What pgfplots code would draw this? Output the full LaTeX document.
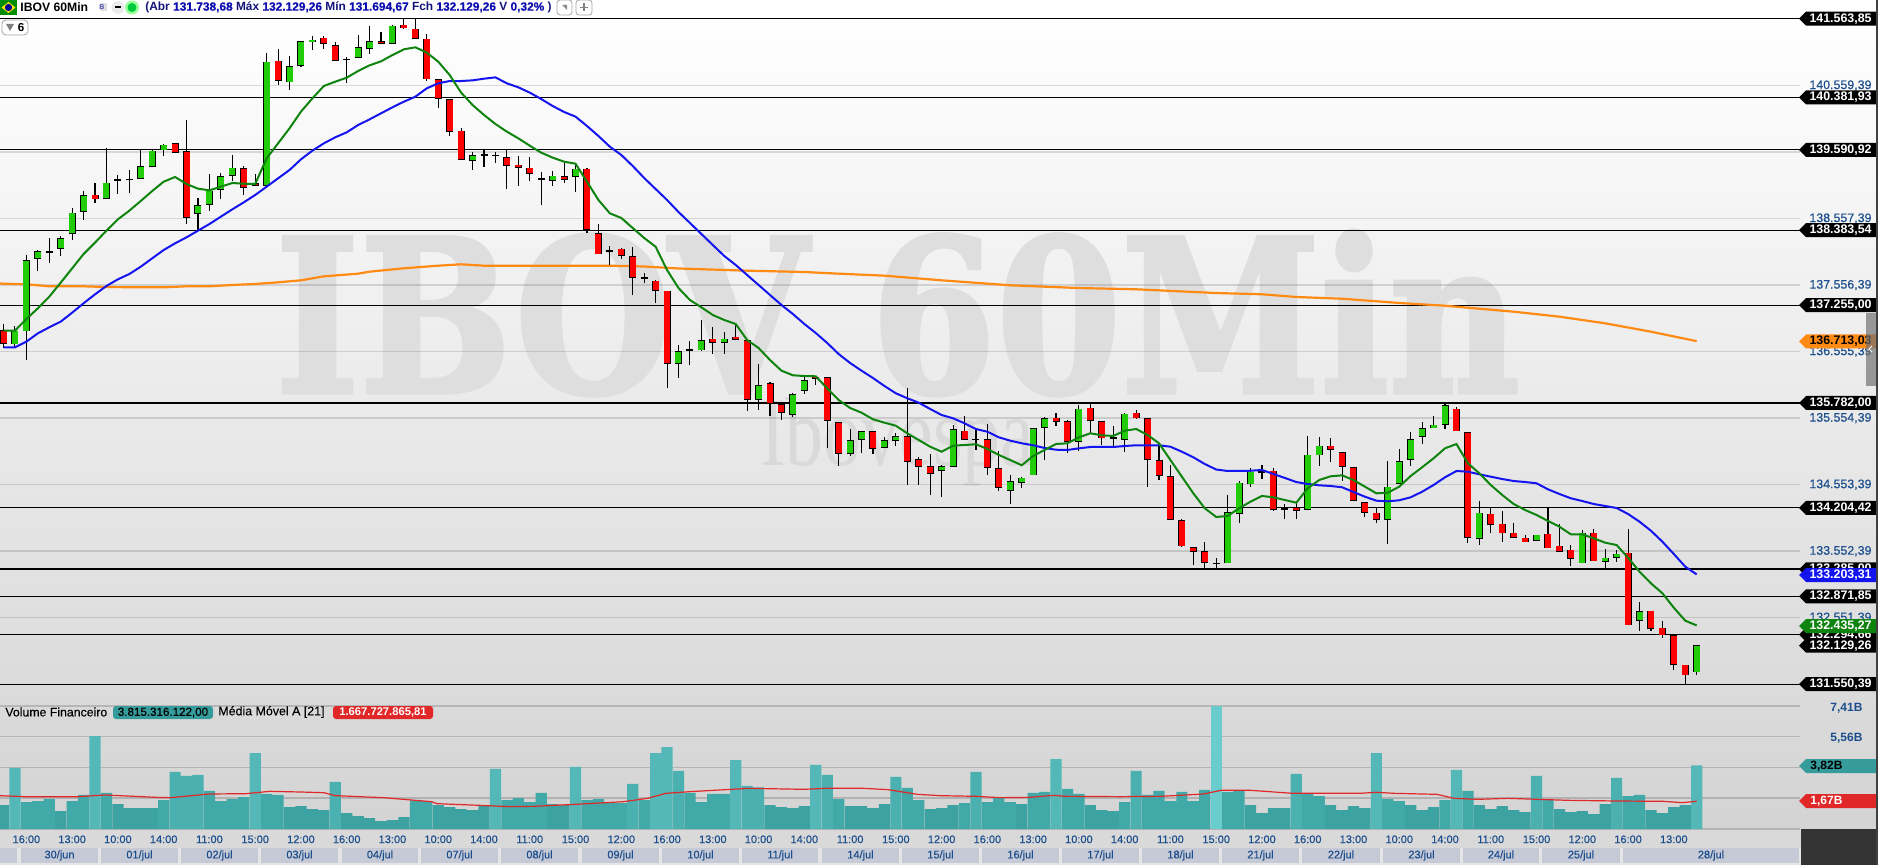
\documentclass[border=0pt]{standalone}
\usepackage{fontspec}
\setmainfont{Liberation Sans}
\newfontfamily\wmfont[BoldFeatures={FakeBold=2}]{DejaVu Serif}
\newfontfamily\lserif{Liberation Serif}
\newfontfamily\medfont[FakeBold=0.35]{Liberation Sans}
\usepackage{pgfplots}
\usepackage{pgfplotstable}
\pgfplotsset{compat=1.18}
\usepackage{graphicx}
\definecolor{cup}{HTML}{22CC08}
\definecolor{cdown}{HTML}{FF0000}
\definecolor{mafast}{HTML}{0E840E}
\definecolor{maslow}{HTML}{1414F0}
\definecolor{malong}{HTML}{FF8A14}
\definecolor{ticktxt}{HTML}{1A4D8C}
\definecolor{tealtag}{HTML}{359B9B}
\definecolor{redtag}{HTML}{E02828}
\definecolor{datecell}{HTML}{C6CAD6}
\definecolor{navy}{HTML}{14147A}
\definecolor{vola}{HTML}{3CA2A2}
\definecolor{volb}{HTML}{42A9A9}
\definecolor{volc}{HTML}{4BB0B0}
\definecolor{vold}{HTML}{54B8B8}
\definecolor{vole}{HTML}{69CDCD}
\definecolor{wmark}{HTML}{DEDEDE}
\definecolor{wmarksub}{HTML}{D9D9D9}

% i, high, body top, body bottom, low, kind (1 up, 2 down, 0 doji), volume (B), fast MA, slow MA
\pgfplotstableread{
i h t b l k v g m
1 136971 136870 136680 136605 2 1.44 136870 136620
2 136941 136860 136670 136605 1 3.67 136870 136620
3 138009 137924 136865 136429 1 1.62 137046 136705
4 138084 138059 137959 137773 1 1.68 137206 136830
5 138265 138064 138049 137894 0 1.80 137382 136921
6 138295 138255 138109 137994 1 1.08 137593 137006
7 138711 138636 138335 138235 1 1.68 137808 137141
8 138972 138902 138666 138536 1 2.05 138024 137282
9 139097 138907 138857 138796 2 5.59 138195 137417
10 139614 139087 138862 138852 1 2.17 138375 137543
11 139213 139148 139133 138927 0 1.50 138546 137643
12 139288 139153 139143 138947 0 1.26 138676 137723
13 139594 139338 139163 139153 1 1.26 138822 137833
14 139594 139569 139343 139338 1 1.26 138972 137959
15 139679 139659 139594 139499 1 1.74 139112 138084
16 139694 139684 139554 139549 2 3.43 139183 138185
17 140040 139564 138576 138475 2 3.19 139077 138275
18 138862 138751 138636 138385 1 3.25 139007 138375
19 139228 138967 138771 138676 1 2.29 138982 138475
20 139248 139188 138997 138852 1 1.68 139037 138586
21 139514 139313 139208 139122 1 1.80 139092 138696
22 139348 139308 139027 138912 2 1.92 139082 138801
23 139228 139082 139057 139057 2 4.57 139077 138912
24 141054 140908 139057 139047 1 2.11 139464 139037
25 141104 140923 140637 140572 2 2.05 139689 139163
26 141003 140843 140612 140492 1 1.32 139915 139288
27 141224 141219 140863 140843 1 1.38 140166 139448
28 141304 141239 141214 141094 1 1.20 140366 139579
29 141304 141269 141194 141109 2 1.14 140552 139689
30 141209 141159 140938 140933 2 2.83 140617 139780
31 140993 140958 140943 140602 0 0.96 140677 139855
32 141319 141129 140983 140978 1 0.78 140778 139965
33 141455 141219 141119 141033 1 0.66 140863 140050
34 141370 141219 141194 141194 2 0.48 140923 140141
35 141465 141450 141194 141189 1 0.54 141018 140231
36 141560 141465 141430 141415 2 0.72 141104 140316
37 141560 141405 141269 141254 2 1.72 141134 140391
38 141334 141254 140662 140632 2 1.68 141054 140517
39 140662 140647 140366 140226 2 1.44 140918 140592
40 140356 140346 139870 139805 2 1.32 140717 140627
41 139915 139870 139448 139438 2 1.20 140452 140627
42 139554 139504 139433 139288 1 1.14 140266 140637
43 139589 139524 139509 139338 0 1.44 140116 140662
44 139564 139509 139499 139398 0 3.61 139980 140682
45 139589 139474 139358 139007 2 1.74 139865 140592
46 139499 139358 139328 139052 2 1.86 139764 140532
47 139479 139313 139238 139127 2 1.62 139654 140452
48 139253 139158 139143 138761 0 2.17 139549 140356
49 139268 139193 139133 139047 1 1.50 139474 140251
50 139388 139188 139148 139097 2 1.44 139413 140161
51 139388 139298 139193 138962 1 3.73 139383 140091
52 139313 139298 138395 138335 2 1.74 139112 139950
53 138475 138330 138029 138019 2 1.80 138837 139800
54 138144 138079 138064 137858 0 1.62 138636 139639
55 138110 138095 138004 137953 2 1.56 138566 139514
56 138125 137983 137673 137407 2 2.71 138415 139348
57 137743 137666 137651 137583 0 1.74 138265 139168
58 137633 137613 137478 137291 2 4.57 138134 139002
59 137467 137463 136379 136013 2 4.93 137783 138837
60 136655 136555 136379 136163 1 3.49 137512 138656
61 136710 136590 136575 136359 0 2.17 137332 138491
62 137031 136720 136585 136565 1 1.62 137222 138325
63 136921 136740 136695 136524 2 2.11 137106 138159
64 136845 136740 136695 136524 1 2.11 137031 137994
65 136971 136770 136740 136730 2 4.15 136971 137859
66 136730 136720 135837 135667 2 2.59 136730 137708
67 136369 136043 135837 135682 1 2.51 136610 137558
68 136093 136073 135777 135592 2 1.44 136429 137407
69 135777 135757 135642 135531 2 1.32 136268 137257
70 135928 135908 135612 135577 1 1.26 136199 137121
71 136178 136118 135973 135923 1 1.38 136188 136971
72 136188 136168 136153 136058 2 3.85 136184 136835
73 136168 136163 135521 135110 2 3.25 136003 136685
74 135501 135486 135025 134839 2 1.80 135827 136519
75 135386 135215 135025 134990 1 1.38 135707 136384
76 135366 135351 135235 135035 1 1.38 135636 136268
77 135361 135351 135100 135020 2 1.26 135537 136158
78 135266 135215 135115 135110 1 1.50 135486 136038
79 135326 135276 135220 135140 1 3.13 135440 135928
80 136008 135276 134904 134548 2 2.47 135326 135853
81 134965 134929 134829 134548 2 1.74 135225 135787
82 135015 134824 134724 134398 2 1.20 135124 135692
83 134849 134824 134769 134373 1 1.26 135049 135601
84 135446 135381 134829 134824 1 1.44 135140 135552
85 135587 135356 135235 135220 2 1.56 135150 135477
86 135386 135240 135225 135075 0 3.43 135161 135391
87 135466 135230 134814 134704 2 1.62 135090 135350
88 135060 134794 134513 134463 2 1.86 135000 135266
89 134699 134598 134468 134267 1 1.62 134924 135215
90 134674 134649 134588 134508 1 1.50 134845 135176
91 135401 135396 134699 134694 1 2.17 134985 135146
92 135577 135546 135416 134929 1 2.23 135075 135105
93 135637 135551 135506 135441 2 4.21 135165 135079
94 135526 135501 135205 135025 2 2.41 135176 135075
95 135747 135687 135205 135065 1 2.11 135266 135100
96 135777 135702 135521 135326 2 1.44 135326 135120
97 135511 135501 135255 135150 2 1.14 135296 135120
98 135436 135266 135250 135115 0 1.08 135286 135120
99 135627 135612 135235 135045 1 1.62 135365 135135
100 135677 135627 135561 135536 2 3.49 135391 135146
101 135551 135546 134934 134523 2 2.05 135301 135146
102 135175 134914 134694 134623 2 2.29 135176 135146
103 134849 134674 134032 134022 2 1.68 134924 135124
104 134032 134012 133635 133620 2 2.23 134673 135049
105 133610 133605 133550 133344 2 1.68 134423 134965
106 133686 133545 133385 133284 2 2.35 134198 134864
107 133445 133370 133360 133304 0 7.41 134067 134781
108 134398 134132 133379 133369 1 2.23 134082 134759
109 134608 134573 134122 133971 1 2.29 134198 134759
110 134799 134739 134568 134523 1 1.44 134297 134763
111 134849 134749 134734 134633 0 0.96 134383 134774
112 134799 134754 134182 134162 2 1.26 134363 134714
113 134262 134192 134182 134036 0 1.26 134322 134654
114 134282 134197 134167 134036 2 3.31 134282 134593
115 135285 134994 134182 134177 1 2.11 134499 134563
116 135275 135130 135004 134834 1 1.98 134623 134544
117 135250 135130 135085 134894 2 1.44 134679 134533
118 135040 135035 134829 134608 2 1.14 134694 134514
119 134814 134809 134317 134312 2 1.38 134623 134443
120 134297 134282 134137 134072 2 1.26 134523 134372
121 134197 134122 134031 133976 2 4.57 134423 134312
122 134909 134513 134031 133660 1 1.80 134432 134303
123 135085 134899 134573 134563 1 1.68 134523 134318
124 135341 135230 134934 134839 1 1.44 134684 134363
125 135496 135396 135280 135165 1 1.14 134815 134447
126 135586 135446 135411 135406 1 1.32 134950 134548
127 135762 135742 135461 135391 1 1.74 135100 134664
128 135717 135687 135366 135361 2 3.55 135165 134759
129 135351 135336 133761 133675 2 2.29 134875 134748
130 134307 134122 133746 133645 1 1.44 134724 134709
131 134207 134107 133956 133826 2 1.20 134548 134673
132 134157 133956 133831 133690 2 1.38 134398 134638
133 133971 133821 133761 133756 2 1.14 134262 134608
134 133796 133746 133695 133690 2 1.02 134172 134593
135 133796 133791 133715 133700 1 3.19 134097 134574
136 134212 133806 133605 133600 2 1.74 134007 134483
137 133956 133625 133550 133540 2 1.20 133921 134413
138 133645 133565 133445 133329 2 1.02 133806 134348
139 133871 133821 133379 133374 1 1.08 133806 134307
140 133886 133821 133409 133404 2 0.90 133746 134262
141 133585 133445 133399 133279 1 1.50 133680 134232
142 133570 133505 133460 133394 1 3.07 133645 134202
143 133886 133520 132441 132436 2 1.98 133454 134112
144 132793 132642 132512 132356 1 2.05 133244 133996
145 132652 132647 132391 132356 2 1.14 133069 133860
146 132502 132391 132291 132251 2 0.96 132919 133695
147 132291 132281 131850 131764 2 1.32 132702 133510
148 131840 131835 131694 131549 2 1.44 132506 133319
149 132129 132129 131738 131694 1 3.82 132435 133203
}\candles

\pgfplotsset{
  base/.style={scale only axis, width=900pt, xmin=0.694, xmax=158.03,
    axis line style={draw=none}, major tick length=0pt, clip=false,
    scaled y ticks=false},
  err/.style 2 args={forget plot, mark=none, draw=none,
    error bars/y dir=both, error bars/y explicit, error bars/error mark=none,
    error bars/error bar style={solid,draw=#1,line width=#2}},
}
\newcommand\level[1]{\addplot[forget plot,black,line width=.55pt] coordinates {(0.694,#1) (158.03,#1)};}
\newcommand\pxfont[1]{\fontsize{#1pt}{#1pt}\selectfont}
% price tag on the right scale: y in px, text, fill, text colour
\newcommand\pricetag[4]{%
  \fill[#3] (1799,#1) -- (1806,#1-7) -- (1876,#1-7) -- (1876,#1+7) -- (1806,#1+7) -- cycle;
  \node[anchor=east,inner sep=0pt,text=#4,font=\bfseries\pxfont{6.2}] at (1872,#1) {#2};}
\newcommand\datecell[3]{%
  \fill[datecell] (#1,848) rectangle (#2,863);
  \node[text=ticktxt,font=\medfont\pxfont{5.5}] at ({(#1+#2)/2},855.5) {#3};}

\begin{document}
\begin{tikzpicture}
\path[use as bounding box] (0,0) rectangle (939pt,-432.5pt);
\begin{scope}[x=.5pt,y=-.5pt]
  \shade[top color=white,bottom color=black!17] (0,12) rectangle (1878,829);
  \fill[white] (0,0) rectangle (1878,12);
  \fill[black!15] (0,829) rectangle (1878,848);
  \fill[black!10] (0,848) rectangle (1878,865);
  \node[text=wmark,anchor=south west,inner sep=0pt] at (275,396)
    {\resizebox{622pt}{81pt}{\wmfont\bfseries IBOV 60Min}};
  \node[text=wmarksub,anchor=west,inner sep=0pt] at (760,442)
    {\resizebox{137pt}{34pt}{\lserif Ibovespa}};
\end{scope}

\begin{axis}[base, at={(0pt,-414.5pt)}, anchor=south west, height=414.5pt,
    ymin=129372, ymax=141846,
    xtick=\empty,
    ytick={140559.39,139558.39,138557.39,137556.39,136555.39,135554.39,134553.39,133552.39,132551.39},
    yticklabels={{140.559,39},{139.558,39},{138.557,39},{137.556,39},{136.555,39},{135.554,39},{134.553,39},{133.552,39},{132.551,39}},
    yticklabel pos=right,
    yticklabel style={anchor=west,inner sep=0pt,xshift=4.5pt,text=ticktxt,font=\medfont\pxfont{6.2}},
    ymajorgrids, grid style={black,opacity=.13,line width=.75pt},
  ]
  \level{141563.85}\level{140381.93}\level{139590.92}\level{138383.54}
  \level{137255.00}\level{135782.00}\level{134204.42}\level{133285.00}
  \level{132871.85}\level{132294.66}\level{131550.39}
  % long average, read at the points where it bends
  \addplot[forget plot,malong,line width=1.1pt] coordinates {
    (0.694,137582) (1,137577) (3,137568) (5,137538) (8,137538) (10,137527) (13,137523) (15,137523)
    (17,137538) (19,137538) (21,137558) (23,137573) (25,137598) (27,137628) (29,137688)
    (32,137728) (33,137758) (36,137809) (39,137848) (41,137869) (43,137848) (46,137848)
    (50,137848) (54,137848) (57,137836) (60,137806) (66,137773) (71,137753) (74,137728)
    (78,137698) (83,137628) (89,137553) (95,137512) (100,137493) (107,137437) (111,137418)
    (114,137377) (118,137351) (123,137287) (127,137246) (133,137156) (137,137081)
    (141,136981) (145,136855) (149,136713)};
  % wicks
  \addplot[err={black}{.55pt}]
    table[x=i,y=t,y error plus expr=\thisrow{h}-\thisrow{t},y error minus expr=\thisrow{t}-\thisrow{l}] {\candles};
  % body outlines, half a pixel beyond the body at each end
  \addplot[err={black}{3.5pt}]
    table[x=i,y=t,y error plus expr=6,y error minus expr=\thisrow{t}-\thisrow{b}+6] {\candles};
  % body fills
  \addplot[err={cup}{3pt},restrict expr to domain={\thisrow{k}}{1:1}]
    table[x=i,y=t,y error plus expr=0,y error minus expr=\thisrow{t}-\thisrow{b}] {\candles};
  \addplot[err={cdown}{3pt},restrict expr to domain={\thisrow{k}}{2:2}]
    table[x=i,y=t,y error plus expr=0,y error minus expr=\thisrow{t}-\thisrow{b}] {\candles};
  \addplot[forget plot,maslow,line width=1pt] table[x=i,y=m] {\candles};
  \addplot[forget plot,mafast,line width=1pt] table[x=i,y=g] {\candles};
\end{axis}

\begin{axis}[base, at={(0pt,-414.5pt)}, anchor=south west, height=69.5pt,
    ymin=0, ymax=8.36,
    ytick={0,1.85,3.71,5.56,7.41},
    yticklabels={,,,{5,56B},{7,41B}},
    yticklabel pos=right,
    yticklabel style={anchor=west,inner sep=0pt,xshift=15pt,yshift=-1pt,text=ticktxt,font=\bfseries\pxfont{6}},
    ymajorgrids, grid style={black,opacity=.16,line width=.75pt},
    xtick={3,7,...,147},
    xticklabels={16:00,13:00,10:00,14:00,11:00,15:00,12:00,16:00,13:00,10:00,14:00,11:00,15:00,12:00,16:00,13:00,10:00,14:00,11:00,15:00,12:00,16:00,13:00,10:00,14:00,11:00,15:00,12:00,16:00,13:00,10:00,14:00,11:00,15:00,12:00,16:00,13:00},
    xticklabel style={text=ticktxt,font=\medfont\pxfont{5.5},inner sep=0pt,yshift=-3pt},
    ybar, bar width=5.6pt, bar shift=0pt,
  ]
  \addplot[forget plot,draw=none,fill=vola,restrict y to domain=0:1.55] table[x=i,y=v] {\candles};
  \addplot[forget plot,draw=none,fill=volb,restrict y to domain=1.55:2.5] table[x=i,y=v] {\candles};
  \addplot[forget plot,draw=none,fill=volc,restrict y to domain=2.5:3.5] table[x=i,y=v] {\candles};
  \addplot[forget plot,draw=none,fill=vold,restrict y to domain=3.5:6.5] table[x=i,y=v] {\candles};
  \addplot[forget plot,draw=none,fill=vole,restrict y to domain=6.5:9] table[x=i,y=v] {\candles};
  \addplot[forget plot,sharp plot,redtag,line width=.6pt] coordinates {
    (0.7,2.005) (2.8,1.945) (7.5,1.945) (9.9,2.045) (14.3,1.905) (15.6,1.885) (19,2.105) (22.2,2.125)
    (24.3,2.266) (26.9,2.226) (29,2.185) (30,2.005) (34.2,1.885) (38.4,1.644) (38.9,1.524)
    (42.6,1.424) (45.2,1.343) (47.3,1.363) (51,1.484) (55.2,1.644) (57.3,1.845) (58.9,2.145)
    (61,2.246) (63.6,2.346) (66.2,2.446) (70.9,2.386) (73,2.446) (76.2,2.446) (78.3,2.366)
    (80.9,2.085) (82.9,2.005) (86,1.965) (88.1,1.885) (90.7,1.905) (92.8,2.025) (93.8,1.965)
    (98.6,1.945) (102.2,1.965) (105.9,2.105) (107.4,2.326) (110,2.326) (113.7,2.145)
    (119.5,2.145) (121,2.206) (122.6,2.145) (126.3,2.085) (127.8,1.845) (129.9,1.784)
    (132.5,1.845) (135.1,1.784) (137.8,1.724) (142,1.684) (146.1,1.664) (147.7,1.584) (149,1.668)};
\end{axis}

\begin{scope}[x=.5pt,y=-.5pt]
  % header
  \fill[green!55!black] (0,0) rectangle (17,15);
  \fill[yellow!90!orange] (1.5,7.5) -- (8.5,2) -- (15.5,7.5) -- (8.5,13) -- cycle;
  \fill[blue!60!black] (8.5,7.5) circle (3.6);
  \node[anchor=west,inner sep=0pt,font=\bfseries\pxfont{6.1}] at (20,7.5) {IBOV 60Min};
  \fill[black!12] (100,3) rectangle (107,11);
  \node[text=blue!40!gray,font=\bfseries\pxfont{3.5},inner sep=0pt] at (102,7.5) {B};
  \fill[black!8] (118,7.5) circle (6.5);
  \fill[black] (115,6.5) rectangle (121,8.5);
  \fill[green!40!white] (132,7.5) circle (7);
  \fill[green!70!cyan!80!black] (132,7.5) circle (4.5);
  \node[anchor=west,inner sep=0pt,text=navy,font=\bfseries\pxfont{5.95}] at (145,7.5)
    {(Abr {\color{navy!60!blue}\medfont 131.738,68} Máx {\color{navy!60!blue}\medfont 132.129,26} Mín {\color{navy!60!blue}\medfont 131.694,67} Fch {\color{navy!60!blue}\medfont 132.129,26} V {\color{navy!60!blue}\medfont 0,32\%} )};
  \draw[black!35,rounded corners=1.5,fill=white] (557,0) rectangle (572,15);
  \fill[black!45] (562,5) -- (567,5) -- (567,10) -- cycle;
  \draw[black!35,rounded corners=1.5,fill=white] (576,0) rectangle (592,15);
  \draw[black!50,line width=.6pt] (580,7.5) -- (588,7.5) (584,3.5) -- (584,11.5);
  \draw[black!35,rounded corners=2,fill=white] (2,20) rectangle (28,35);
  \fill[black!50] (6,24) -- (14,24) -- (10,31) -- cycle;
  \node[font=\bfseries\pxfont{5.8},inner sep=0pt] at (21,27.5) {6};
  % price tags
  \pricetag{18.7}{141.563,85}{black}{white}
  \pricetag{97.3}{140.381,93}{black}{white}
  \pricetag{149.9}{139.590,92}{black}{white}
  \pricetag{230.1}{138.383,54}{black}{white}
  \pricetag{305.1}{137.255,00}{black}{white}
  \pricetag{403}{135.782,00}{black}{white}
  \pricetag{507.9}{134.204,42}{black}{white}
  \pricetag{569.4}{133.285,00}{black}{white}
  \pricetag{596.4}{132.871,85}{black}{white}
  \pricetag{634.7}{132.294,66}{black}{white}
  \pricetag{645.7}{132.129,26}{black}{white}
  \pricetag{684.2}{131.550,39}{black}{white}
  \pricetag{575}{133.203,31}{maslow}{white}
  \pricetag{626}{132.435,27}{mafast}{white}
  \pricetag{341.5}{136.713,03}{malong}{black}
  \fill[black!55,opacity=.7] (1866,313) rectangle (1876,386);
  \draw[white,line width=.4pt] (1872,346) -- (1869,349) -- (1872,352);
  % volume legend
  \node[anchor=west,inner sep=0pt,font=\medfont\pxfont{6.15}] at (5,712) {Volume Financeiro};
  \fill[tealtag,rounded corners=1.5] (113,706) rectangle (213,719);
  \node[inner sep=0pt,font=\medfont\pxfont{5.8}] at (163,712.5) {3.815.316.122,00};
  \node[anchor=west,inner sep=0pt,font=\medfont\pxfont{6.2}] at (218,712) {Média Móvel A [21]};
  \fill[redtag,rounded corners=1.5] (333,706) rectangle (433,719);
  \node[inner sep=0pt,text=white,font=\bfseries\pxfont{5.6}] at (383,712.5) {1.667.727.865,81};
  % volume tags
  \fill[tealtag] (1799,766) -- (1806,759) -- (1876,759) -- (1876,773) -- (1806,773) -- cycle;
  \node[anchor=west,inner sep=0pt,font=\bfseries\pxfont{6}] at (1810,766) {3,82B};
  \fill[redtag] (1799,801) -- (1806,794) -- (1876,794) -- (1876,808) -- (1806,808) -- cycle;
  \node[anchor=west,inner sep=0pt,text=white,font=\bfseries\pxfont{6}] at (1810,801) {1,67B};
  % date row
  \datecell{0}{17}{}
  \datecell{21}{98}{30/jun}\datecell{101}{178}{01/jul}\datecell{181}{258}{02/jul}
  \datecell{261}{338}{03/jul}\datecell{342}{418}{04/jul}\datecell{421}{498}{07/jul}
  \datecell{501}{578}{08/jul}\datecell{582}{659}{09/jul}\datecell{662}{739}{10/jul}
  \datecell{742}{818}{11/jul}\datecell{822}{899}{14/jul}\datecell{902}{979}{15/jul}
  \datecell{982}{1059}{16/jul}\datecell{1062}{1139}{17/jul}\datecell{1142}{1219}{18/jul}
  \datecell{1222}{1299}{21/jul}\datecell{1302}{1380}{22/jul}\datecell{1383}{1460}{23/jul}
  \datecell{1463}{1539}{24/jul}\datecell{1542}{1620}{25/jul}\datecell{1623}{1799}{28/jul}
  \fill[black!80] (1801,829) rectangle (1878,865);
  \fill[black!75] (1876,0) rectangle (1878,865);
\end{scope}
\end{tikzpicture}
\end{document}
